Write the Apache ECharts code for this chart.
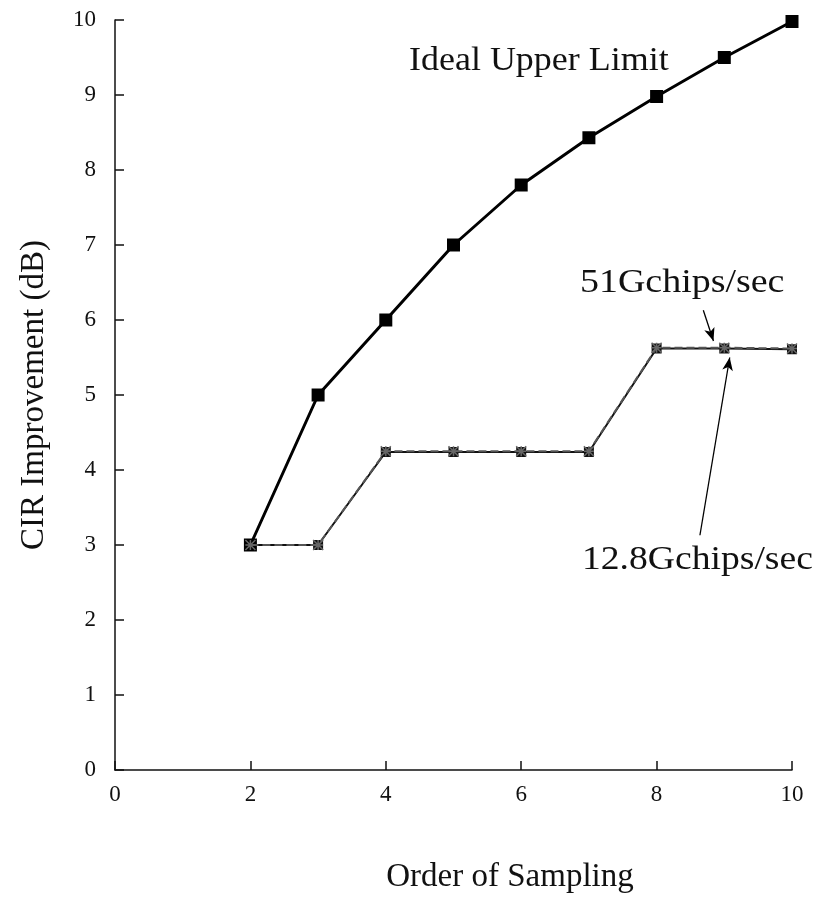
<!DOCTYPE html>
<html>
<head>
<meta charset="utf-8">
<script src="https://cdn.jsdelivr.net/npm/echarts@6/dist/echarts.min.js"></script>
<style>
  html, body { margin: 0; padding: 0; background: #fff; }
  #chart { width: 823px; height: 908px; }
</style>
</head>
<body>
<div id="chart"></div>
<script>
// Sampling order (x) and CIR improvement in dB (y)
const orders = [2, 3, 4, 5, 6, 7, 8, 9, 10];
const idealUpper = [3.0, 5.0, 6.0, 7.0, 7.8, 8.43, 8.98, 9.5, 9.98];
const rate51G = [3.0, 3.0, 4.25, 4.25, 4.25, 4.25, 5.63, 5.63, 5.62];
const rate12_8G = [3.0, 3.0, 4.24, 4.24, 4.24, 4.24, 5.62, 5.62, 5.61];
const xTicks = [0, 2, 4, 6, 8, 10];
const yTicks = [0, 1, 2, 3, 4, 5, 6, 7, 8, 9, 10];

const pairs = (ys) => orders.map((x, i) => [x, ys[i]]);
const FONT = '"Liberation Serif", "DejaVu Serif", serif';

// wide serif caption, stretched horizontally from its left edge
function caption(text, x, y, stretch, align) {
  return {
    type: 'text',
    x: x, y: y,
    scaleX: stretch, scaleY: 1,
    style: {
      text: text,
      font: '33px ' + FONT,
      fill: '#111',
      align: align || 'left',
      verticalAlign: 'middle'
    },
    z: 10
  };
}

const chart = echarts.init(document.getElementById('chart'), null, { renderer: 'canvas' });

chart.setOption({
  animation: false,
  backgroundColor: '#ffffff',
  grid: { left: 115, right: 31, top: 20, bottom: 138, containLabel: false },
  xAxis: {
    type: 'value',
    min: xTicks[0],
    max: xTicks[xTicks.length - 1],
    interval: 2,
    axisLine: { show: true, lineStyle: { color: '#111', width: 1.5 } },
    axisTick: { show: true, inside: true, length: 9, lineStyle: { color: '#111', width: 1.5 } },
    axisLabel: { margin: 13, fontFamily: FONT, fontSize: 23, color: '#111' },
    splitLine: { show: false }
  },
  yAxis: {
    type: 'value',
    min: yTicks[0],
    max: yTicks[yTicks.length - 1],
    interval: 1,
    name: 'CIR Improvement (dB)',
    nameLocation: 'middle',
    nameGap: 64,
    nameRotate: 90,
    nameTextStyle: { fontFamily: FONT, fontSize: 33, color: '#111' },
    axisLine: { show: true, lineStyle: { color: '#111', width: 1.5 } },
    axisTick: { show: true, inside: true, length: 9, lineStyle: { color: '#111', width: 1.5 } },
    axisLabel: { margin: 19, fontFamily: FONT, fontSize: 23, color: '#111' },
    splitLine: { show: false }
  },
  series: [
    {
      name: 'Ideal Upper Limit',
      type: 'line',
      data: pairs(idealUpper),
      symbol: 'rect',
      symbolSize: 13,
      itemStyle: { color: '#000' },
      lineStyle: { color: '#000', width: 3 },
      z: 3
    },
    {
      name: '12.8Gchips/sec',
      type: 'line',
      data: pairs(rate12_8G),
      symbol: 'rect',
      symbolSize: 10,
      itemStyle: { color: '#111' },
      lineStyle: { color: '#111', width: 2 },
      z: 2,
      markLine: {
        silent: true,
        symbol: ['none', 'arrow'],
        symbolSize: [8, 13],
        label: { show: false },
        lineStyle: { color: '#000', width: 1.3, type: 'solid' },
        data: [
          [{ coord: [8.64, 3.13] }, { coord: [9.08, 5.5] }],
          [{ coord: [8.69, 6.13] }, { coord: [8.84, 5.72] }]
        ]
      }
    },
    {
      name: '51Gchips/sec',
      type: 'line',
      data: pairs(rate51G),
      symbol: 'path://M0,0 L10,10 M10,0 L0,10 M5,0 L5,10 M0,5 L10,5',
      symbolSize: 10,
      itemStyle: { color: '#666', borderColor: '#666', borderWidth: 1.5 },
      lineStyle: { color: '#555', width: 2, type: [8, 4] },
      z: 4
    }
  ],
  graphic: [
    caption('Ideal Upper Limit', 409, 61, 1.09),
    caption('51Gchips/sec', 580, 283, 1.15),
    caption('12.8Gchips/sec', 582, 560, 1.14),
    caption('Order of Sampling', 510, 877, 1.0, 'center')
  ]
});
</script>
</body>
</html>
